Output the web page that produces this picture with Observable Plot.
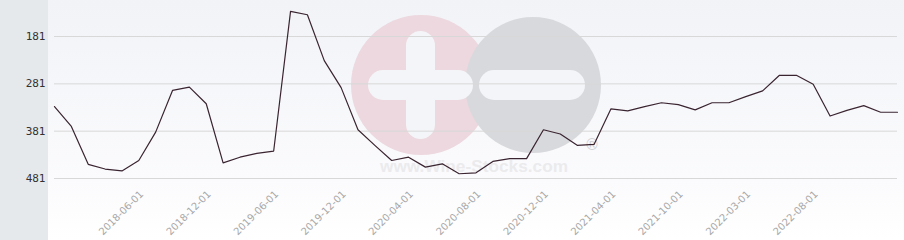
<!DOCTYPE html>
<html>
<head>
<meta charset="utf-8">
<script src="https://cdn.jsdelivr.net/npm/d3@7"></script>
<script src="https://cdn.jsdelivr.net/npm/@observablehq/plot@0.6"></script>
<style>
  html, body { margin: 0; padding: 0; background: #fff; }
  #wrap { position: relative; width: 904px; height: 240px; overflow: hidden;
          background: linear-gradient(#f1f3f7, #fbfbfd 75%, #ffffff); }
  #panel { position: absolute; left: 0; top: 0; width: 48px; height: 240px; background: #e6e9ec; }
  #wm { position: absolute; left: 0; top: 0; }
  #chart { position: absolute; left: 0; top: 0; }
  #chart svg { background: transparent; }
</style>
</head>
<body>
<div id="wrap">
  <div id="panel"></div>
  <svg id="wm" width="904" height="240">
    <circle cx="421" cy="85" r="70" fill="#ecd8de"/>
    <circle cx="533" cy="85" r="68" fill="#d8d9dc"/>
    <rect x="406" y="31" width="29" height="108" rx="14.5" fill="#f4f5f8"/>
    <rect x="368" y="70" width="105" height="30" rx="15" fill="#f4f5f8"/>
    <rect x="479" y="70" width="106" height="30" rx="15" fill="#f4f5f8"/>
    <text x="592" y="150" font-family="DejaVu Sans" font-size="15" fill="#d3d3d6" text-anchor="middle">®</text>
    <text x="380" y="172" font-family="Liberation Sans, Arial" font-weight="bold" font-size="16" fill="#ebebed" textLength="188" lengthAdjust="spacingAndGlyphs">www.Wine-Stocks.com</text>
  </svg>
  <div id="chart"></div>
</div>
<script>
// Rank values (lower is better), one per observation, evenly spaced in time order
const ranks = [329, 371, 451, 461, 465, 443, 383, 295, 288, 323,
               448, 436, 428, 423, 128, 135, 232, 289, 378, 411,
               443, 436, 457, 450, 471, 469, 445, 439, 439, 378,
               387, 411, 409, 334, 338, 329, 321, 325, 336, 321,
               321, 308, 296, 263, 263, 282, 349, 337, 327, 341, 341];
// Positions (observation index) of the labelled dates and their labels
const tickIndex = [5, 9, 13, 17, 21, 25, 29, 33, 37, 41, 45];
const tickLabels = ["2018-06-01", "2018-12-01", "2019-06-01", "2019-12-01", "2020-04-01",
                    "2020-08-01", "2020-12-01", "2021-04-01", "2021-10-01", "2022-03-01", "2022-08-01"];
const yTicks = [181, 281, 381, 481];

const data = ranks.map((r, i) => ({i, r}));
const labelOf = new Map(tickIndex.map((t, k) => [t, tickLabels[k]]));

const chart = Plot.plot({
  width: 904,
  height: 240,
  marginLeft: 54,
  marginRight: 7,
  marginTop: 36,
  marginBottom: 62,
  style: {background: "transparent", overflow: "visible"},
  x: {domain: [0, ranks.length - 1], label: null},
  y: {domain: [181, 481], reverse: true, label: null},
  marks: [
    Plot.gridY(yTicks, {stroke: "#d8d8d8", strokeOpacity: 1, strokeWidth: 1}),
    Plot.axisY(yTicks, {label: null, tickSize: 0, tickPadding: 9, fontFamily: "DejaVu Sans Mono", fontSize: 11, fill: "#333", tickFormat: d => String(d)}),
    Plot.axisX(tickIndex, {label: null, tickSize: 0, tickPadding: 14, tickRotate: -45, fontFamily: "DejaVu Sans", fontSize: 10, fill: "#a8a8a8", tickFormat: d => labelOf.get(d), dx: 3}),
    Plot.line(data, {x: "i", y: "r", stroke: "#3a2430", strokeWidth: 1.2})
  ]
});
document.getElementById("chart").appendChild(chart);
</script>
</body>
</html>
